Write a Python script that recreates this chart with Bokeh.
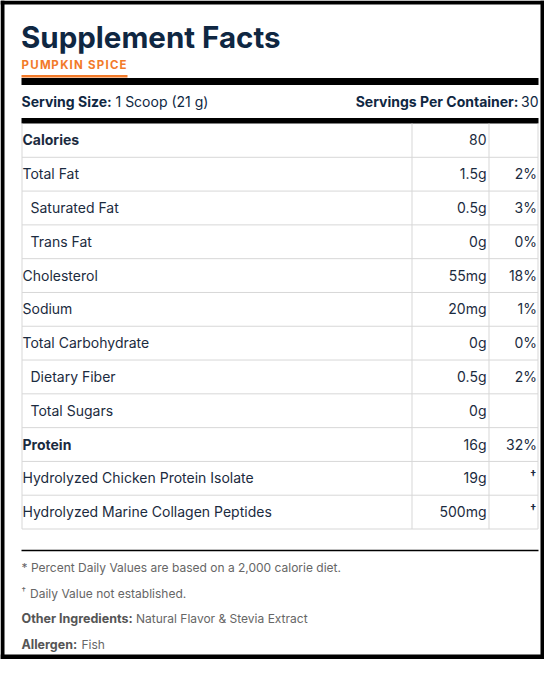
from bokeh.plotting import figure
from bokeh.embed import file_html
from bokeh.resources import INLINE
from bokeh.core.properties import value

# ---------------- data ----------------
title = "Supplement Facts"
flavor = "PUMPKIN SPICE"
serving_label = "Serving Size:"
serving_value = "1 Scoop (21 g)"
servings_label = "Servings Per Container:"
servings_value = "30"

nutrients = ["Calories", "Total Fat", "Saturated Fat", "Trans Fat", "Cholesterol",
             "Sodium", "Total Carbohydrate", "Dietary Fiber", "Total Sugars",
             "Protein", "Hydrolyzed Chicken Protein Isolate",
             "Hydrolyzed Marine Collagen Peptides"]
amounts = ["80", "1.5g", "0.5g", "0g", "55mg", "20mg", "0g", "0.5g", "0g",
           "16g", "19g", "500mg"]
daily_values = ["", "2%", "3%", "0%", "18%", "1%", "0%", "2%", "", "32%", "†", "†"]
is_bold = [True, False, False, False, False, False, False, False, False, True, False, False]
is_indented = [False, False, True, True, False, False, False, True, True, False, False, False]

footnote_1 = "* Percent Daily Values are based on a 2,000 calorie diet."
footnote_2 = "Daily Value not established."
other_label = "Other Ingredients:"
other_value = "Natural Flavor & Stevia Extract"
allergen_label = "Allergen:"
allergen_value = "Fish"

# ---------------- layout ----------------
W, H = 544, 659
FONT = value("Inter")
NAVY = "#0f2742"
TEXT = "#1b2b40"
ORANGE = "#f27a2a"
GRAY = "#666666"
GRAY_B = "#555555"
GRID = "#d7d7d7"

p = figure(width=W, height=H, x_range=(0, W), y_range=(H, 0),
           output_backend="svg", toolbar_location=None, min_border=0)
p.axis.visible = False
p.grid.visible = False
p.outline_line_color = None
p.background_fill_color = "white"
p.border_fill_color = "white"

# outer black frame
p.quad(left=[0, 0, W - 4, 0], right=[W, 4, W, W], top=[0, 0, 0, H - 5],
       bottom=[4, H, H, H], fill_color="black", line_color=None)

L, R = 21, 538
MID = "middle"

def txt(x, y, s, size, bold=False, color=TEXT, align="left"):
    p.text(x=x if isinstance(x, list) else [x], y=y if isinstance(y, list) else [y],
           text=s if isinstance(s, list) else [s], text_font=FONT,
           text_font_size=f"{size}px", text_font_style="bold" if bold else "normal",
           text_color=color, text_baseline=MID, text_align=align)

# title
txt(L - 0.5, 36, title, 29.5, bold=True, color=NAVY)

# flavour with letter spacing (approximate Inter Bold advances, em units)
adv = {"P": 0.653, "U": 0.722, "M": 0.880, "K": 0.694, "I": 0.281, "N": 0.743,
       " ": 0.25, "S": 0.653, "C": 0.708, "E": 0.590}
fs, ls = 11.5, 1.3
cx, xs = float(L), []
for ch in flavor:
    xs.append(cx)
    cx += adv[ch] * fs + ls
txt(xs, [64.5] * len(xs), list(flavor), fs, bold=True, color=ORANGE)
p.quad(left=[L], right=[127], top=[74.5], bottom=[77], fill_color=ORANGE, line_color=None)

# thick bars
p.quad(left=[L, L], right=[R, R], top=[77.5, 117.5], bottom=[84.5, 123],
       fill_color="black", line_color=None)

# serving line
txt(L, 100.5, serving_label, 14, bold=True, color=NAVY)
txt(115, 100.5, serving_value, 14, color=NAVY)
txt(R, 100.5, servings_value, 14, color=NAVY, align="right")
txt(518, 100.5, servings_label, 14, bold=True, color=NAVY, align="right")

# table grid
TOP, BOT = 123, 528.5
n = len(nutrients)
RH = (BOT - TOP) / n
col_x = [21.5, 411.5, 488.5, 537.5]
hy = [TOP + RH * (i + 1) for i in range(n)]
p.segment(x0=[21.5] * n, x1=[537.5] * n, y0=hy, y1=hy, line_color=GRID, line_width=1)
p.segment(x0=col_x, x1=col_x, y0=[TOP] * 4, y1=[BOT] * 4, line_color=GRID, line_width=1)

row_c = [TOP + RH * (i + 0.5) - 0.5 for i in range(n)]
name_x = [30 if ind else 22 for ind in is_indented]

for bold_flag in (True, False):
    idx = [i for i in range(n) if is_bold[i] == bold_flag]
    txt([name_x[i] for i in idx], [row_c[i] for i in idx], [nutrients[i] for i in idx],
        14, bold=bold_flag)

txt([486] * n, row_c, amounts, 14, align="right")

pct = [i for i in range(n) if daily_values[i] not in ("", "†")]
dag = [i for i in range(n) if daily_values[i] == "†"]
txt([536.5] * len(pct), [row_c[i] for i in pct], [daily_values[i] for i in pct], 14,
    align="right")
txt([536] * len(dag), [row_c[i] - 3.5 for i in dag], [daily_values[i] for i in dag], 11,
    bold=True, align="right")

# footer
p.segment(x0=[L], x1=[R], y0=[550], y1=[550], line_color="black", line_width=1.5)
txt(L, 567, footnote_1, 12, color=GRAY)
txt(L, 589.5, "†", 9, color=GRAY)
txt(29.5, 592.5, footnote_2, 12, color=GRAY)
txt(L, 618, other_label, 12.5, bold=True, color=GRAY_B)
txt(135.5, 618, other_value, 12, color=GRAY)
txt(L, 644, allergen_label, 12.5, bold=True, color=GRAY_B)
txt(81, 644, allergen_value, 12, color=GRAY)

open("out.html", "w").write(file_html(p, INLINE))
